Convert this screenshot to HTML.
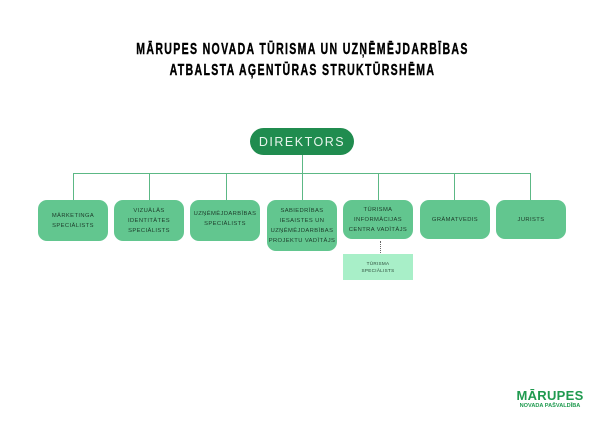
<!DOCTYPE html>
<html><head><meta charset="utf-8"><style>
body{margin:0;width:605px;height:428px;background:#fff;position:relative;overflow:hidden;font-family:"Liberation Sans",sans-serif}
.t{position:absolute;left:0;width:605px;text-align:center;font-weight:bold;font-size:16px;letter-spacing:2px;color:#000;transform:scaleX(0.66);white-space:nowrap;-webkit-text-stroke:0.4px #000}
.b{position:absolute;background:#62c68f;border-radius:9px;display:flex;align-items:center;justify-content:center;text-align:center;font-size:5.8px;letter-spacing:.4px;line-height:10px;color:#1d3b2a;white-space:nowrap}
.l{position:absolute;background:#5cb885}
</style></head><body>
<div class="t" style="top:41px">MĀRUPES NOVADA TŪRISMA UN UZŅĒMĒJDARBĪBAS</div>
<div class="t" style="top:62px">ATBALSTA AĢENTŪRAS STRUKTŪRSHĒMA</div>
<div style="position:absolute;left:250px;top:128px;width:104px;height:27px;border-radius:14px;background:#208c4f;color:#e8f5ec;font-size:12.5px;letter-spacing:1.5px;display:flex;align-items:center;justify-content:center">DIREKTORS</div>
<div class="l" style="left:302px;top:155px;width:1px;height:45px"></div>
<div class="l" style="left:73px;top:173px;width:458px;height:1px"></div>
<div class="l" style="left:73px;top:173px;width:1px;height:27px"></div>
<div class="l" style="left:149px;top:173px;width:1px;height:27px"></div>
<div class="l" style="left:226px;top:173px;width:1px;height:27px"></div>
<div class="l" style="left:378px;top:173px;width:1px;height:27px"></div>
<div class="l" style="left:454px;top:173px;width:1px;height:27px"></div>
<div class="l" style="left:530px;top:173px;width:1px;height:27px"></div>
<div class="b" style="left:38px;top:200px;width:70px;height:41px">MĀRKETINGA<br>SPECIĀLISTS</div>
<div class="b" style="left:114px;top:200px;width:70px;height:41px">VIZUĀLĀS<br>IDENTITĀTES<br>SPECIĀLISTS</div>
<div class="b" style="left:190px;top:200px;width:70px;height:41px;padding-bottom:4px;box-sizing:border-box">UZŅĒMĒJDARBĪBAS<br>SPECIĀLISTS</div>
<div class="b" style="left:267px;top:200px;width:70px;height:51px">SABIEDRĪBAS<br>IESAISTES UN<br>UZŅĒMĒJDARBĪBAS<br>PROJEKTU VADĪTĀJS</div>
<div class="b" style="left:343px;top:200px;width:70px;height:39px">TŪRISMA<br>INFORMĀCIJAS<br>CENTRA VADĪTĀJS</div>
<div class="b" style="left:420px;top:200px;width:70px;height:39px">GRĀMATVEDIS</div>
<div class="b" style="left:496px;top:200px;width:70px;height:39px">JURISTS</div>
<div style="position:absolute;left:380px;top:241px;width:0;height:12px;border-left:1px dotted #666"></div>
<div style="position:absolute;left:343px;top:254px;width:70px;height:26px;background:#a8efc8;display:flex;align-items:center;justify-content:center;text-align:center;font-size:4.6px;line-height:7px;letter-spacing:.3px;color:#2b4a38">TŪRISMA<br>SPECIĀLISTS</div>
<div style="position:absolute;left:505px;top:389px;width:90px;text-align:center;color:#1f9a4f;font-weight:bold">
<div style="font-size:13px;line-height:13px;letter-spacing:.3px">MĀRUPES</div>
<div style="font-size:5.6px;line-height:8px">NOVADA PAŠVALDĪBA</div></div>
</body></html>
